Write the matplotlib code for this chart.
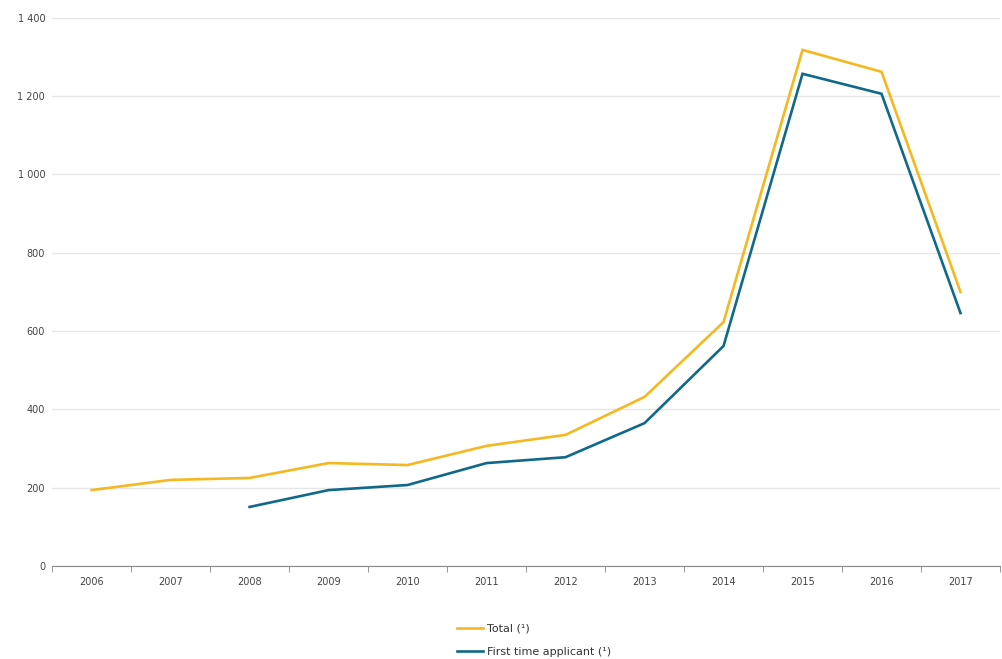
import numpy as np
import matplotlib.pyplot as plt
from matplotlib.ticker import FuncFormatter, FixedLocator

years = ['2006', '2007', '2008', '2009', '2010', '2011', '2012', '2013', '2014', '2015', '2016', '2017']
total = [194, 220, 225, 263, 258, 307, 335, 432, 623, 1318, 1262, 700]
# first time applicants only from 2008 on
first_time = [np.nan, np.nan, 151, 194, 207, 263, 278, 365, 562, 1257, 1206, 646]

yellow = '#f5b821'
blue = '#11698a'

fig = plt.figure(figsize=(10.02, 6.59), dpi=100)
ax = fig.add_axes([0.052, 0.141, 0.946, 0.832])

x = np.arange(len(years))
ax.plot(x, total, color=yellow, lw=1.9, label='Total (¹)', solid_joinstyle='miter')
ax.plot(x, first_time, color=blue, lw=1.9, label='First time applicant (¹)', solid_joinstyle='miter')

ax.set_xlim(-0.5, len(years) - 0.5)
ax.set_ylim(0, 1400)
ax.set_yticks(np.arange(0, 1401, 200))
ax.yaxis.set_major_formatter(FuncFormatter(lambda v, p: f'{int(v):,}'.replace(',', ' ')))
ax.grid(axis='y', color='#e6e6e6', lw=1)
ax.set_axisbelow(True)

ax.set_xticks(x)
ax.set_xticklabels(years)
ax.xaxis.set_minor_locator(FixedLocator(np.arange(-0.5, len(years), 1)))
ax.tick_params(axis='x', which='major', length=0, pad=8, labelsize=7, colors='#444444')
ax.tick_params(axis='x', which='minor', length=4, color='#888888', direction='out')
ax.tick_params(axis='y', length=0, pad=5, labelsize=7, colors='#444444')

for s in ['top', 'right', 'left']:
    ax.spines[s].set_visible(False)
ax.spines['bottom'].set_color('#888888')

leg = fig.legend(loc='center', bbox_to_anchor=(0.533, 0.028), ncol=1, frameon=False,
                 fontsize=8, handlelength=2.3, handletextpad=0.4, labelspacing=1.2)
for t in leg.get_texts():
    t.set_color('#333333')

fig.savefig('out.png', dpi=100)
